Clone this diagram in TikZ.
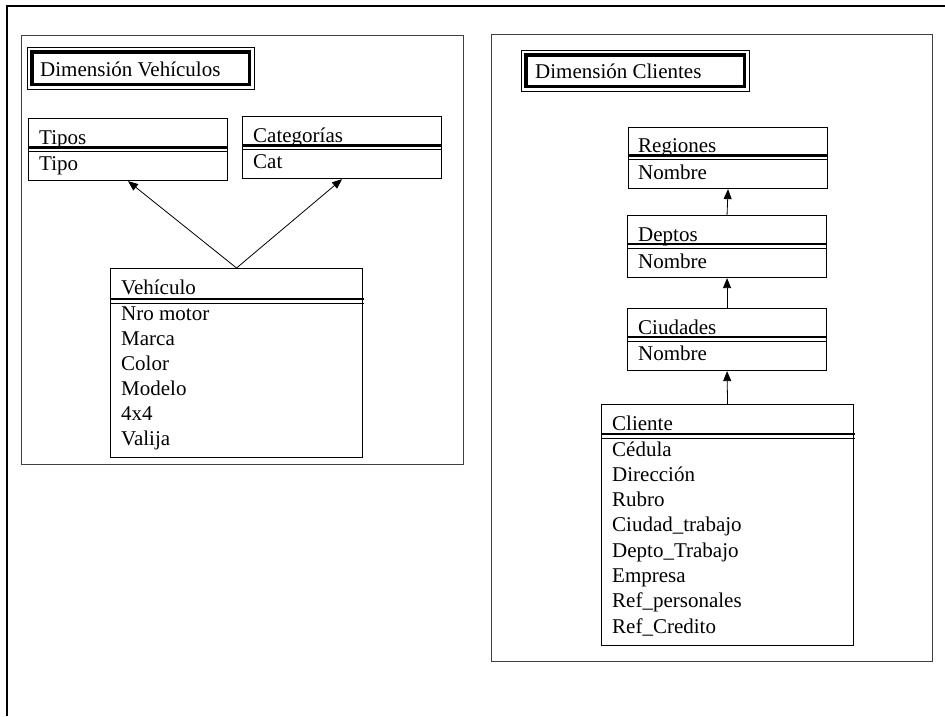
\documentclass[tikz,border=0pt]{standalone}
\usepackage{fontspec}
\setmainfont{Liberation Serif}
\usetikzlibrary{arrows.meta}

\tikzset{
  panel/.style={draw=black!75, line width=0.9pt},
  cls/.style={draw=black, line width=1.1pt, inner sep=0pt, anchor=north west},
  txt/.style={inner sep=0pt, anchor=base west, font=\fontsize{21}{24}\selectfont},
  septhick/.style={line width=2.6pt},
  septhin/.style={line width=0.9pt},
  ttlouter/.style={draw=black, line width=0.8pt, inner sep=0pt, anchor=north west},
  ttlinner/.style={line width=3.4pt},
  arr/.style={line width=0.8pt, -{Triangle[length=10pt,width=8pt]}},
}

% compartment separator: thick rule over a thin one
\newcommand{\clsrule}[3]{%
  \draw[septhick] (#1,#3) -- (#2,#3);
  \draw[septhin] (#1,#3+4.4) -- (#2,#3+4.4);
}

\begin{document}
\begin{tikzpicture}[x=1pt,y=-1pt]
\useasboundingbox (0,0) rectangle (945,716);

% page frame
\draw[line width=1.3pt] (7,716) -- (7,6) -- (945,6);

% ---------------- Vehicle dimension ----------------
\draw[panel] (21,35) rectangle (463,464);

\node[ttlouter, minimum width=227pt, minimum height=42pt] (tv) at (27,47) {};
\draw[ttlinner] (31.8,51.8) rectangle (249.2,84.2);
\node[txt] (tvtext) at (40,76) {Dimensión Vehículos};

% Tipos
\node[cls, minimum width=199pt, minimum height=62pt] (tipos) at (28,118) {};
\node[txt] (tiposh) at (39,144) {Tipos};
\clsrule{28}{227}{147.5}
\node[txt] (tiposa) at (39,170) {Tipo};

% Categorias
\node[cls, minimum width=199pt, minimum height=62pt] (cats) at (242,116) {};
\node[txt] (catsh) at (253,142) {Categorías};
\clsrule{242}{441}{145.5}
\node[txt] (catsa) at (253,168) {Cat};

% Vehiculo
\node[cls, minimum width=252pt, minimum height=189pt] (veh) at (110,268) {};
\node[txt] (vehh) at (121,294) {Vehículo};
\clsrule{110}{364}{299}
\node[txt] (veha1) at (121,320) {Nro motor};
\node[txt] (veha2) at (121,345) {Marca};
\node[txt] (veha3) at (121,370) {Color};
\node[txt] (veha4) at (121,395) {Modelo};
\node[txt] (veha5) at (121,420) {4x4};
\node[txt] (veha6) at (121,445) {Valija};

\draw[arr] (veh.north) -- (tipos.south);
\draw[arr] (veh.north) -- (cats.south);

% ---------------- Client dimension ----------------
\draw[panel] (491,34) rectangle (932,661);

\node[ttlouter, minimum width=228pt, minimum height=41pt] (tc) at (521,50) {};
\draw[ttlinner] (525.8,54.8) rectangle (744.2,86.2);
\node[txt] (tctext) at (535,78) {Dimensión Clientes};

% Regiones
\node[cls, minimum width=199pt, minimum height=61pt] (reg) at (628,127) {};
\node[txt] (regh) at (638,152) {Regiones};
\clsrule{628}{827}{155.5}
\node[txt] (rega) at (638,179) {Nombre};

% Deptos
\node[cls, minimum width=199pt, minimum height=62pt] (dep) at (627,215) {};
\node[txt] (deph) at (638,241) {Deptos};
\clsrule{627}{826}{244}
\node[txt] (depa) at (638,268) {Nombre};

% Ciudades
\node[cls, minimum width=199pt, minimum height=62pt] (ciu) at (627,308) {};
\node[txt] (ciuh) at (638,334) {Ciudades};
\clsrule{627}{826}{337}
\node[txt] (ciua) at (638,360) {Nombre};

% Cliente
\node[cls, minimum width=252pt, minimum height=241pt] (cli) at (601,404) {};
\node[txt] (clih) at (612,430) {Cliente};
\clsrule{601}{855}{434}
\node[txt] (clia1) at (612,456) {Cédula};
\node[txt] (clia2) at (612,481.3) {Dirección};
\node[txt] (clia3) at (612,506.6) {Rubro};
\node[txt] (clia4) at (612,531.9) {Ciudad\_trabajo};
\node[txt] (clia5) at (612,557.2) {Depto\_Trabajo};
\node[txt] (clia6) at (612,582.5) {Empresa};
\node[txt] (clia7) at (612,607.8) {Ref\_personales};
\node[txt] (clia8) at (612,633.1) {Ref\_Credito};

\draw[arr] (dep.north) -- (reg.south);
\draw[arr] (ciu.north) -- (dep.south);
\draw[arr] (cli.north) -- (ciu.south);

\end{tikzpicture}
\end{document}
